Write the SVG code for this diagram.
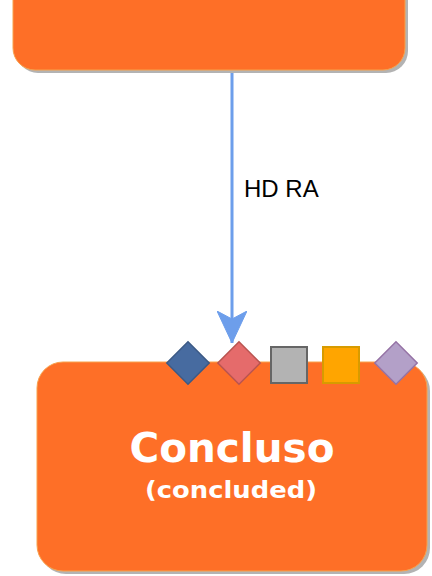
<svg xmlns="http://www.w3.org/2000/svg" width="432" height="576" viewBox="0 0 432 576">
<style>
.node{fill:#fe6f27;stroke:#f7a24d;stroke-width:1}
.shadow{fill:#b3b3b3}
.title{font-family:"DejaVu Sans","Liberation Sans",sans-serif;font-weight:bold;fill:#ffffff;text-anchor:middle}
.lbl{font-family:"Liberation Sans",Arial,sans-serif;font-size:24px;fill:#000000}
</style>
<defs>
<marker id="arr" viewBox="0 0 32 30" refX="32" refY="15" markerWidth="32" markerHeight="30" markerUnits="userSpaceOnUse" orient="auto">
<path d="M0,0 L32,15 L0,30 L8,15 Z" fill="#6d9eeb" stroke="#6d9eeb"/>
</marker>
</defs>
<g id="connectors">
<line x1="232" y1="70" x2="232" y2="343" stroke="#6d9eeb" stroke-width="3" marker-end="url(#arr)"/>
<text class="lbl" x="244" y="197">HD RA</text>
</g>
<g id="node-top">
<rect class="shadow" x="16" y="-60" width="392" height="133" rx="22"/>
<rect class="node" x="13" y="-63" width="392" height="133" rx="22"/>
</g>
<g id="node-concluso">
<rect class="shadow" x="40" y="365" width="390" height="209" rx="26"/>
<rect class="node" x="37" y="362" width="390" height="209" rx="26"/>
<text class="title" x="232" y="462" font-size="41" textLength="205" lengthAdjust="spacingAndGlyphs">Concluso</text>
<text class="title" x="231" y="498" font-size="23" textLength="172" lengthAdjust="spacingAndGlyphs">(concluded)</text>
</g>
<g id="markers">
<rect x="173" y="348" width="30" height="30" transform="rotate(45 188 363)" fill="#476ba0" stroke="#3c5a86" stroke-width="1.5"/>
<rect x="224" y="348" width="30" height="30" transform="rotate(45 239 363)" fill="#e56b6b" stroke="#b85450" stroke-width="1.5"/>
<rect x="271" y="347" width="36" height="36" fill="#b3b3b3" stroke="#666666" stroke-width="2"/>
<rect x="323" y="347" width="36" height="36" fill="#ffa500" stroke="#d79b00" stroke-width="2"/>
<rect x="381" y="348" width="30" height="30" transform="rotate(45 396 363)" fill="#b3a0c8" stroke="#9673a6" stroke-width="1.5"/>
</g>
</svg>
